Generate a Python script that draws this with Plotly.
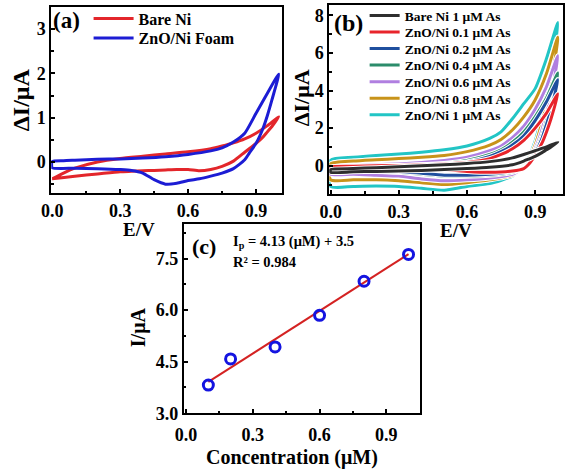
import plotly.graph_objects as go

# ---------------- data ----------------
# Panel (a): CV loops, forward (anodic) and reverse scans
a_E_fwd = [0, 0.05, 0.1, 0.2, 0.3, 0.4, 0.5, 0.6, 0.7, 0.75, 0.8, 0.85, 0.9, 0.95, 1.0]
a_E_rev = [1.0, 0.97, 0.95, 0.93, 0.9, 0.87, 0.85, 0.8, 0.75, 0.7, 0.65, 0.6, 0.55, 0.5, 0.45, 0.4, 0.35, 0.3, 0.2, 0.1, 0]
a_bare_fwd = [-0.38, -0.25, -0.14, 0.0, 0.08, 0.13, 0.18, 0.23, 0.3, 0.36, 0.43, 0.52, 0.65, 0.82, 1.02]
a_bare_rev = [1.02, 0.8, 0.68, 0.56, 0.42, 0.3, 0.22, 0.02, -0.1, -0.17, -0.2, -0.17, -0.17, -0.18, -0.19, -0.2, -0.21, -0.22, -0.27, -0.32, -0.38]
a_zno_fwd = [0.01, 0.03, 0.04, 0.06, 0.07, 0.09, 0.12, 0.17, 0.25, 0.32, 0.45, 0.65, 1.1, 1.55, 1.98]
a_zno_rev = [1.98, 1.4, 1.05, 0.75, 0.42, 0.2, 0.05, -0.15, -0.25, -0.32, -0.38, -0.42, -0.48, -0.5, -0.4, -0.25, -0.19, -0.17, -0.15, -0.14, -0.13]
a_names = ["Bare Ni", "ZnO/Ni Foam"]

# Panel (b): CV loops at different As concentrations
b_E_fwd = [0, 0.1, 0.2, 0.3, 0.4, 0.5, 0.6, 0.7, 0.75, 0.8, 0.85, 0.9, 0.95, 1.0]
b_E_rev = [1.0, 0.97, 0.95, 0.93, 0.9, 0.87, 0.85, 0.8, 0.7, 0.6, 0.5, 0.4, 0.3, 0.2, 0.1, 0]
b_names = ["Bare Ni 1 μM As", "ZnO/Ni 0.1 μM As", "ZnO/Ni 0.2 μM As", "ZnO/Ni 0.4 μM As",
           "ZnO/Ni 0.6 μM As", "ZnO/Ni 0.8 μM As", "ZnO/Ni 1 μM As"]
b_bare_fwd = [-0.2, -0.15, -0.1, -0.05, 0.0, 0.05, 0.12, 0.22, 0.3, 0.42, 0.6, 0.8, 1.0, 1.25]
b_bare_rev = [1.25, 1.0, 0.85, 0.7, 0.5, 0.35, 0.25, 0.05, -0.08, -0.15, -0.2, -0.25, -0.28, -0.3, -0.32, -0.35]
b_c01_fwd = [-0.05, -0.02, 0.0, 0.02, 0.05, 0.1, 0.18, 0.38, 0.6, 0.9, 1.35, 2.0, 2.8, 3.82]
b_c01_rev = [3.82, 2.5, 1.8, 1.2, 0.55, 0.05, -0.15, -0.28, -0.35, -0.3, -0.2, -0.1, -0.08, -0.08, -0.1, -0.1]
b_c02_fwd = [-0.15, -0.1, -0.08, -0.05, 0.0, 0.08, 0.2, 0.5, 0.75, 1.1, 1.6, 2.4, 3.4, 4.58]
b_c02_rev = [4.58, 3.0, 2.2, 1.45, 0.65, 0.1, -0.12, -0.3, -0.45, -0.5, -0.5, -0.4, -0.3, -0.25, -0.25, -0.25]
b_c04_fwd = [-0.15, -0.08, -0.04, 0.0, 0.05, 0.12, 0.28, 0.6, 0.85, 1.25, 1.8, 2.6, 3.6, 4.93]
b_c04_rev = [4.93, 3.2, 2.4, 1.6, 0.75, 0.15, -0.1, -0.35, -0.5, -0.55, -0.55, -0.45, -0.35, -0.3, -0.3, -0.3]
b_c06_fwd = [-0.1, 0.0, 0.05, 0.1, 0.18, 0.28, 0.45, 0.8, 1.05, 1.5, 2.1, 3.0, 4.2, 5.85]
b_c06_rev = [5.85, 3.7, 2.8, 1.9, 0.9, 0.2, -0.1, -0.45, -0.65, -0.75, -0.8, -0.7, -0.55, -0.5, -0.45, -0.45]
b_c08_fwd = [0.1, 0.25, 0.32, 0.38, 0.45, 0.55, 0.75, 1.1, 1.4, 1.9, 2.6, 3.5, 4.9, 6.84]
b_c08_rev = [6.84, 4.3, 3.3, 2.3, 1.1, 0.3, -0.05, -0.5, -0.75, -0.9, -1.0, -0.9, -0.8, -0.75, -0.75, -0.75]
b_c10_fwd = [0.3, 0.45, 0.55, 0.62, 0.72, 0.85, 1.05, 1.45, 1.8, 2.5, 3.3, 4.1, 5.7, 7.62]
b_c10_rev = [7.62, 5.0, 3.8, 2.7, 1.3, 0.4, 0.0, -0.55, -0.95, -1.1, -1.3, -1.2, -1.1, -1.08, -1.1, -1.1]

# Panel (c): peak current vs concentration
c_conc = [0.1, 0.2, 0.4, 0.6, 0.8, 1.0]
c_current = [3.82, 4.58, 4.93, 5.85, 6.84, 7.62]
fit_slope = 4.13
fit_intercept = 3.5
r_squared = 0.984

# tick values
x_ticks = [0.0, 0.3, 0.6, 0.9]
a_y_ticks = [0, 1, 2, 3]
b_y_ticks = [0, 2, 4, 6, 8]
c_y_ticks = [3.0, 4.5, 6.0, 7.5]

# ---------------- styles ----------------
W, H = 567, 471
SERIF = "Liberation Serif"
a_colors = ["#e3262b", "#1c1cd4"]
b_colors = ["#2e2e2e", "#e8242b", "#1f4f9e", "#2b8c6b", "#b07fe0", "#c8931a", "#22c5c5"]
a_leg_rows = [17, 37]           # legend row centres (px from top)
b_leg_row0, b_leg_step = 14, 17


def px_x(p):
    return p / W


def px_y(p):
    return 1 - p / H


def loop(E_f, I_f, E_r, I_r):
    x = list(E_f) + list(E_r[1:]) + [E_f[0]]
    y = list(I_f) + list(I_r[1:]) + [I_f[0]]
    return x, y


fig = go.Figure()
legends = {}
leg_i = 0


def leg_key(i):
    return "legend" if i == 0 else f"legend{i + 1}"


# panel (a)
for k, (name, f, r, col) in enumerate(zip(a_names, [a_bare_fwd, a_zno_fwd], [a_bare_rev, a_zno_rev], a_colors)):
    x, y = loop(a_E_fwd, f, a_E_rev, r)
    key = leg_key(leg_i)
    leg_i += 1
    legends[key] = dict(x=px_x(80), y=px_y(a_leg_rows[k]), xanchor="left", yanchor="middle",
                        bgcolor="rgba(0,0,0,0)", itemwidth=40,
                        font=dict(family=SERIF, size=16, color="black", weight="bold"))
    fig.add_trace(go.Scatter(x=x, y=y, mode="lines", name=name, xaxis="x", yaxis="y",
                             line=dict(color=col, width=3, shape="spline", smoothing=0.6),
                             legend=key))

# panel (b): draw higher concentrations first, bare Ni on top
b_fwd = [b_bare_fwd, b_c01_fwd, b_c02_fwd, b_c04_fwd, b_c06_fwd, b_c08_fwd, b_c10_fwd]
b_rev = [b_bare_rev, b_c01_rev, b_c02_rev, b_c04_rev, b_c06_rev, b_c08_rev, b_c10_rev]
order = [6, 5, 4, 3, 2, 1, 0]
b_keys = {}
for k in range(len(b_names)):
    key = leg_key(leg_i)
    leg_i += 1
    b_keys[k] = key
    legends[key] = dict(x=px_x(361), y=px_y(b_leg_row0 + k * b_leg_step), xanchor="left", yanchor="middle",
                        bgcolor="rgba(0,0,0,0)", itemwidth=30,
                        font=dict(family=SERIF, size=13.5, color="black", weight="bold"))
for k in order:
    x, y = loop(b_E_fwd, b_fwd[k], b_E_rev, b_rev[k])
    fig.add_trace(go.Scatter(x=x, y=y, mode="lines", showlegend=False, xaxis="x2", yaxis="y2",
                             line=dict(color="white", width=5, shape="spline", smoothing=0.6),
                             hoverinfo="skip"))
    fig.add_trace(go.Scatter(x=x, y=y, mode="lines", name=b_names[k], xaxis="x2", yaxis="y2",
                             line=dict(color=b_colors[k], width=3, shape="spline", smoothing=0.6),
                             legend=b_keys[k]))

# panel (c)
fit_x = [c_conc[0], c_conc[-1]]
fit_y = [fit_slope * v + fit_intercept for v in fit_x]
fig.add_trace(go.Scatter(x=fit_x, y=fit_y, mode="lines", showlegend=False, xaxis="x3", yaxis="y3",
                         line=dict(color="#d42222", width=2)))
fig.add_trace(go.Scatter(x=c_conc, y=c_current, mode="markers", showlegend=False, xaxis="x3", yaxis="y3",
                         marker=dict(symbol="circle-open", size=10, color="#1414e0",
                                     line=dict(width=3, color="#1414e0"))))

tickfont = dict(family=SERIF, size=18, color="black")


def axis(domain, rng, ticks, fmt, minor_dtick, anchor, standoff=None):
    d = dict(domain=domain, range=rng, anchor=anchor,
             tickmode="array", tickvals=ticks, ticktext=[f"<b>{v:{fmt}}</b>" for v in ticks],
             showline=True, linecolor="black", linewidth=2, mirror=True,
             ticks="inside", ticklen=4, tickwidth=1.5, tickcolor="black",
             minor=dict(ticks="inside", ticklen=2.5, dtick=minor_dtick, tick0=0, tickcolor="black"),
             showgrid=False, zeroline=False, tickfont=tickfont)
    if standoff is not None:
        d["ticklabelstandoff"] = standoff
    return d


layout = dict(
    width=W, height=H, margin=dict(l=0, r=0, t=0, b=0),
    paper_bgcolor="white", plot_bgcolor="white",
    xaxis=axis([px_x(42), px_x(277)], [-0.004, 1.015], x_ticks, ".1f", 0.15, "y"),
    yaxis=axis([px_y(196), px_y(5)], [-0.7, 3.5], a_y_ticks, "d", 0.5, "x"),
    xaxis2=axis([px_x(325), px_x(563)], [-0.006, 1.023], x_ticks, ".1f", 0.15, "y2"),
    yaxis2=axis([px_y(197), px_y(3)], [-1.5, 8.55], b_y_ticks, "d", 1, "x2"),
    xaxis3=axis([px_x(177), px_x(417)], [-0.01, 1.05], x_ticks, ".1f", 0.15, "y3", standoff=4),
    yaxis3=axis([px_y(422), px_y(228)], [3.0, 8.5], c_y_ticks, ".1f", 0.75, "x3"),
    showlegend=True,
)
layout.update(legends)
fig.update_layout(**layout)

ann_font = dict(family=SERIF, color="black", weight="bold")


def ann(text, x, y, size, angle=0, xanchor="center"):
    fig.add_annotation(text=text, x=px_x(x), y=px_y(y), xref="paper", yref="paper",
                       showarrow=False, textangle=angle, xanchor=xanchor, yanchor="middle",
                       font=dict(size=size, **ann_font))


ann("(a)", 58, 19, 23)
ann("(b)", 345, 22, 24)
ann("(c)", 197, 251, 22)
ann("ΔI/μA", 12, 100, 24, angle=-90)
ann("ΔI/μA", 297, 98, 22, angle=-90)
ann("I/μA", 131, 334, 20, angle=-90)
ann("E/V", 131, 233, 19)
ann("E/V", 454, 234, 19)
ann("Concentration (μM)", 287, 467, 20)
ann(f"I<sub>p</sub> = {fit_slope} (μM) + {fit_intercept}", 225, 246, 14.5, xanchor="left")
ann(f"R² = {r_squared}", 225, 267, 14.5, xanchor="left")

fig.write_html("out.html", config={"displayModeBar": False},
               post_script="document.body.style.margin='0';document.body.style.padding='0';")
